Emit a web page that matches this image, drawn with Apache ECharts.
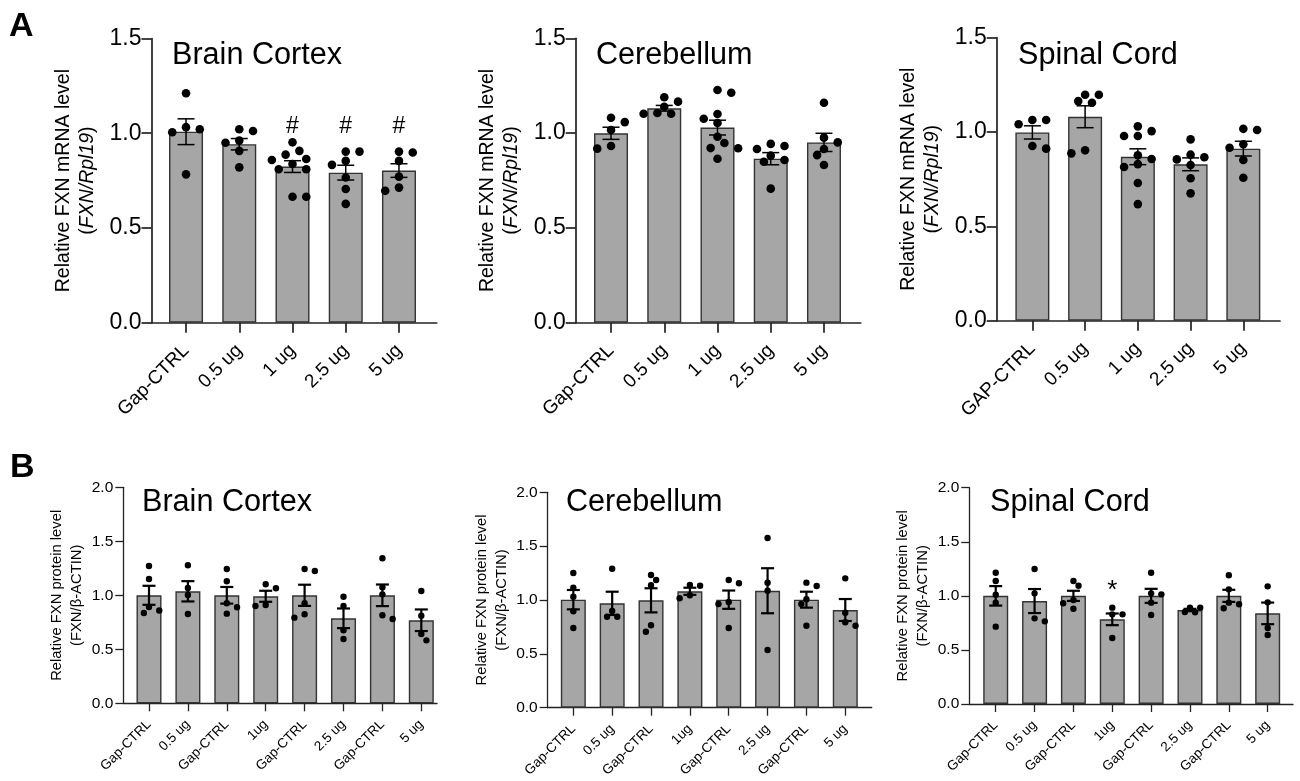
<!DOCTYPE html>
<html>
<head>
<meta charset="utf-8">
<script src="https://cdn.jsdelivr.net/npm/echarts@6/dist/echarts.min.js"></script>
<style>
  html, body { margin: 0; padding: 0; background: #fff; }
  #chart { width: 1300px; height: 781px; }
</style>
</head>
<body>
<div id="chart"></div>
<script>
// ---- Group labels ----
const groupsMrna = ['Gap-CTRL', '0.5 ug', '1 ug', '2.5 ug', '5 ug'];
const groupsMrnaSpinal = ['GAP-CTRL', '0.5 ug', '1 ug', '2.5 ug', '5 ug'];
const groupsProtein = ['Gap-CTRL', '0.5 ug', 'Gap-CTRL', '1ug', 'Gap-CTRL', '2.5 ug', 'Gap-CTRL', '5 ug'];

// ---- Y-axis ranges (ticks every 0.5) ----
const mrnaAxis = { min: 0, max: 1.5, interval: 0.5 };
const proteinAxis = { min: 0, max: 2.0, interval: 0.5 };

// ---- A: FXN mRNA, Brain Cortex ----
const cortexMrnaMean = [1.008, 0.942, 0.824, 0.792, 0.803];
const cortexMrnaSem = [0.068, 0.030, 0.031, 0.039, 0.036];
const cortexMrnaPts = [
  [1.211, 1.032, 1.005, 1.021, 0.783],
  [1.021, 1.012, 0.950, 0.961, 0.907, 0.820],
  [0.952, 0.864, 0.887, 0.907, 0.859, 0.838, 0.810, 0.810, 0.665, 0.665],
  [0.903, 0.903, 0.854, 0.833, 0.766, 0.706, 0.627],
  [0.898, 0.903, 0.854, 0.771, 0.696, 0.713]
];
const cortexMrnaSig = ['', '', '#', '#', '#'];

// ---- A: FXN mRNA, Cerebellum ----
const cerebMrnaMean = [0.999, 1.131, 1.029, 0.865, 0.951];
const cerebMrnaSem = [0.032, 0.015, 0.039, 0.032, 0.048];
const cerebMrnaPts = [
  [1.081, 1.058, 1.016, 0.918, 0.932],
  [1.166, 1.189, 1.139, 1.102, 1.102, 1.106],
  [1.213, 1.227, 1.101, 1.076, 1.053, 0.981, 0.948, 0.920, 0.921, 0.865],
  [0.932, 0.943, 0.916, 0.881, 0.849, 0.858, 0.707],
  [1.160, 0.976, 0.951, 0.916, 0.884, 0.832]
];
const cerebMrnaSig = ['', '', '', '', ''];

// ---- A: FXN mRNA, Spinal Cord ----
const spinalMrnaMean = [0.998, 1.081, 0.869, 0.829, 0.912];
const spinalMrnaSem = [0.035, 0.058, 0.042, 0.034, 0.039];
const spinalMrnaPts = [
  [1.064, 1.041, 1.064, 0.912, 0.926],
  [1.164, 1.198, 1.155, 1.198, 0.887, 0.903],
  [1.030, 0.979, 0.979, 1.005, 0.877, 0.857, 0.830, 0.815, 0.730, 0.618],
  [0.961, 0.855, 0.866, 0.880, 0.825, 0.755, 0.675],
  [1.011, 1.017, 0.917, 0.935, 0.852, 0.758]
];
const spinalMrnaSig = ['', '', '', '', ''];

// ---- B: FXN protein, Brain Cortex ----
const cortexProtMean = [1.000, 1.037, 1.000, 0.991, 1.000, 0.787, 1.000, 0.769];
const cortexProtSem = [0.088, 0.094, 0.077, 0.051, 0.098, 0.091, 0.100, 0.100];
const cortexProtPts = [
  [1.271, 1.151, 0.836, 0.892, 0.859],
  [1.278, 1.068, 1.003, 0.827],
  [1.244, 1.130, 0.926, 0.889, 0.830],
  [1.065, 1.102, 0.901, 0.910],
  [1.244, 1.225, 0.926, 0.793, 0.824],
  [0.987, 0.901, 0.676, 0.595],
  [1.343, 1.074, 1.009, 0.781, 0.815],
  [1.040, 0.811, 0.642, 0.583]
];
const cortexProtSig = ['', '', '', '', '', '', '', ''];

// ---- B: FXN protein, Cerebellum ----
const cerebProtMean = [1.003, 0.969, 0.997, 1.081, 1.003, 1.086, 1.003, 0.907];
const cerebProtSem = [0.090, 0.108, 0.112, 0.033, 0.085, 0.209, 0.074, 0.102];
const cerebProtPts = [
  [1.251, 1.114, 1.031, 0.895, 0.740],
  [1.290, 0.898, 0.845, 0.845],
  [1.232, 1.186, 1.137, 0.765, 0.705],
  [1.133, 1.139, 1.016, 1.044],
  [1.186, 1.155, 0.981, 0.963, 0.740],
  [1.576, 1.161, 1.086, 0.536],
  [1.161, 1.130, 1.007, 0.963, 0.761],
  [1.201, 0.882, 0.761, 0.793]
];
const cerebProtSig = ['', '', '', '', '', '', '', ''];

// ---- B: FXN protein, Spinal Cord ----
const spinalProtMean = [1.000, 0.952, 1.000, 0.783, 1.000, 0.869, 1.000, 0.838];
const spinalProtSem = [0.090, 0.111, 0.047, 0.054, 0.065, 0.011, 0.056, 0.100];
const spinalProtPts = [
  [1.214, 1.137, 1.011, 0.937, 0.715],
  [1.248, 1.023, 0.764, 0.792],
  [1.094, 1.137, 0.962, 0.931, 0.881],
  [0.891, 0.829, 0.829, 0.610],
  [1.214, 1.014, 1.023, 0.937, 0.823],
  [0.851, 0.891, 0.848, 0.891],
  [1.190, 1.060, 0.885, 0.937, 0.922],
  [1.088, 0.940, 0.703, 0.638]
];
const spinalProtSig = ['', '', '', '*', '', '', '', ''];

// ---- Styling ----
const FONT = '"Liberation Sans", Arial, Helvetica, sans-serif';
const AXIS_COLOR = '#222';
const BAR_COLOR = '#a6a6a6';
const BAR_BORDER = '#333';

const STYLE = {
  A: { axis: mrnaAxis, tickFont: 23, yMargin: 10, xFont: 19, nameFont: 19.5, nameLH: 24, nameGap: 52,
       tickLen: 10, axisW: 1.7, barW: 34, dot: 8.6, errW: 1.5, cap: 17, xMargin: 25,
       sigFont: 23, sigLevel: 1.035,
       name: 'Relative FXN mRNA level\n({i|FXN/Rpl19})' },
  B: { axis: proteinAxis, tickFont: 15.5, yMargin: 10, xFont: 13.5, nameFont: 14.8, nameLH: 20, nameGap: 36,
       tickLen: 8, axisW: 1.3, barW: 25, dot: 6.4, errW: 2.2, cap: 13, xMargin: 19,
       sigFont: 26, sigLevel: 1.045,
       name: 'Relative FXN protein level\n(FXN/β-ACTIN)' }
};

// Panel frames: frame = y-axis line .. end of x-axis line, plot = band area of the categories
const panels = [
  { kind: 'A', title: 'Brain Cortex', cats: groupsMrna, mean: cortexMrnaMean, sem: cortexMrnaSem, pts: cortexMrnaPts, sig: cortexMrnaSig,
    frame: [151.5, 436.7], plot: [159.4, 425.6], top: 38.5, bottom: 322.7, titleAt: [172, 40] },
  { kind: 'A', title: 'Cerebellum', cats: groupsMrna, mean: cerebMrnaMean, sem: cerebMrnaSem, pts: cerebMrnaPts, sig: cerebMrnaSig,
    frame: [575.7, 860.7], plot: [584.4, 850.6], top: 38.3, bottom: 322.7, titleAt: [596, 40] },
  { kind: 'A', title: 'Spinal Cord', cats: groupsMrnaSpinal, mean: spinalMrnaMean, sem: spinalMrnaSem, pts: spinalMrnaPts, sig: spinalMrnaSig,
    frame: [996.7, 1280], plot: [1006, 1269.7], top: 37.7, bottom: 320.7, titleAt: [1018, 40] },
  { kind: 'B', title: 'Brain Cortex', cats: groupsProtein, mean: cortexProtMean, sem: cortexProtSem, pts: cortexProtPts, sig: cortexProtSig,
    frame: [123.3, 437], plot: [129.55, 440.75], top: 487.3, bottom: 703.3, titleAt: [142, 487] },
  { kind: 'B', title: 'Cerebellum', cats: groupsProtein, mean: cerebProtMean, sem: cerebProtSem, pts: cerebProtPts, sig: cerebProtSig,
    frame: [547.7, 871.7], plot: [553.9, 864.7], top: 492.3, bottom: 707.7, titleAt: [566, 487] },
  { kind: 'B', title: 'Spinal Cord', cats: groupsProtein, mean: spinalProtMean, sem: spinalProtSem, pts: spinalProtPts, sig: spinalProtSig,
    frame: [969.3, 1293], plot: [976.3, 1287.1], top: 487.7, bottom: 704, titleAt: [990, 487] }
];

// Spread the dots of one group sideways so that they do not overlap (beeswarm)
function swarmOffsets(values, pxPerUnit, d) {
  const order = values.map((v, i) => i).sort((a, b) => values[b] - values[a]);
  const placed = [];
  const dx = new Array(values.length).fill(0);
  const step = d * 0.8;
  const minDist = d * 1.02;
  order.forEach(idx => {
    const y = values[idx] * pxPerUnit;
    const free = x => placed.every(p => Math.hypot(p.x - x, p.y - y) >= minDist);
    for (let k = 0; k < 40; k++) {
      let cands;
      if (k === 0) cands = [0];
      else {
        const bal = placed.reduce((s, p) => s + Math.sign(p.x), 0);
        cands = bal > 0 ? [-k * step, k * step] : [k * step, -k * step];
      }
      const hit = cands.find(free);
      if (hit !== undefined) { placed.push({ x: hit, y }); dx[idx] = hit; break; }
    }
  });
  return dx;
}

const grid = [], xAxis = [], yAxis = [], series = [], titles = [];

panels.forEach(p => {
  const s = STYLE[p.kind];
  const h = p.bottom - p.top;
  const axisLineStyle = { color: AXIS_COLOR, width: s.axisW };

  // frame grid: carries the visible axis lines, y ticks and y labels
  const gf = grid.length;
  grid.push({ left: p.frame[0], top: p.top, width: p.frame[1] - p.frame[0], height: h });
  xAxis.push({
    type: 'value', gridIndex: gf, min: 0, max: 1,
    axisLine: { show: true, onZero: false, lineStyle: axisLineStyle },
    axisTick: { show: false }, axisLabel: { show: false }, splitLine: { show: false }
  });
  yAxis.push({
    type: 'value', gridIndex: gf, min: s.axis.min, max: s.axis.max, interval: s.axis.interval,
    axisLine: { show: true, lineStyle: axisLineStyle },
    axisTick: { show: true, length: s.tickLen, lineStyle: axisLineStyle },
    axisLabel: { fontSize: s.tickFont, color: '#000', fontFamily: FONT, margin: s.yMargin,
                 formatter: v => v.toFixed(1) },
    splitLine: { show: false },
    name: s.name, nameLocation: 'middle', nameGap: s.nameGap,
    nameTextStyle: {
      fontSize: s.nameFont, color: '#000', fontFamily: FONT, lineHeight: s.nameLH, align: 'center',
      rich: { i: { fontSize: s.nameFont, fontStyle: 'italic', color: '#000', fontFamily: FONT, lineHeight: s.nameLH } }
    }
  });

  // plot grid: categories, bars, error bars and dots
  const gp = grid.length;
  grid.push({ left: p.plot[0], top: p.top, width: p.plot[1] - p.plot[0], height: h });
  const xi = xAxis.length;
  xAxis.push({
    type: 'category', gridIndex: gp, data: p.cats,
    axisLine: { show: false },
    axisTick: { show: true, alignWithLabel: true, length: s.tickLen, lineStyle: axisLineStyle },
    axisLabel: { rotate: 45, interval: 0, margin: s.xMargin, fontSize: s.xFont, color: '#000', fontFamily: FONT },
    splitLine: { show: false }
  });
  const yi = yAxis.length;
  yAxis.push({ type: 'value', gridIndex: gp, min: s.axis.min, max: s.axis.max, interval: s.axis.interval, show: false });

  series.push({
    type: 'bar', xAxisIndex: xi, yAxisIndex: yi, data: p.mean, barWidth: s.barW,
    itemStyle: { color: BAR_COLOR, borderColor: BAR_BORDER, borderWidth: 1.4 }, z: 2
  });

  // mean ± SEM
  series.push({
    type: 'custom', xAxisIndex: xi, yAxisIndex: yi, z: 3,
    data: p.mean.map((m, i) => [i, m, p.sem[i]]),
    encode: { x: 0, y: 1 },
    renderItem: (params, api) => {
      const i = api.value(0), m = api.value(1), e = api.value(2);
      const t = api.coord([i, m + e]), b = api.coord([i, m - e]);
      const hw = s.cap / 2;
      const st = { stroke: '#000', lineWidth: s.errW };
      return { type: 'group', children: [
        { type: 'line', shape: { x1: t[0], y1: t[1], x2: b[0], y2: b[1] }, style: st },
        { type: 'line', shape: { x1: t[0] - hw, y1: t[1], x2: t[0] + hw, y2: t[1] }, style: st },
        { type: 'line', shape: { x1: b[0] - hw, y1: b[1], x2: b[0] + hw, y2: b[1] }, style: st }
      ] };
    }
  });

  // individual animals
  const pxPerUnit = h / (s.axis.max - s.axis.min);
  const dots = [];
  p.pts.forEach((vals, gi) => {
    const off = swarmOffsets(vals, pxPerUnit, s.dot);
    vals.forEach((v, k) => dots.push([gi, v, off[k]]));
  });
  series.push({
    type: 'custom', xAxisIndex: xi, yAxisIndex: yi, z: 4,
    data: dots, encode: { x: 0, y: 1 },
    renderItem: (params, api) => {
      const c = api.coord([api.value(0), api.value(1)]);
      return { type: 'circle', shape: { cx: c[0] + api.value(2), cy: c[1], r: s.dot / 2 }, style: { fill: '#000' } };
    }
  });

  // significance marks
  const sigIdx = p.sig.map((t, i) => (t ? i : -1)).filter(i => i >= 0);
  if (sigIdx.length) {
    series.push({
      type: 'custom', xAxisIndex: xi, yAxisIndex: yi, z: 5,
      data: sigIdx.map(i => [i, s.sigLevel]), encode: { x: 0, y: 1 },
      renderItem: (params, api) => {
        const c = api.coord([api.value(0), api.value(1)]);
        return { type: 'text', x: c[0], y: c[1],
          style: { text: p.sig[sigIdx[params.dataIndex]], fill: '#000', font: s.sigFont + 'px ' + FONT,
                   align: 'center', verticalAlign: 'middle' } };
      }
    });
  }

  titles.push({ text: p.title, left: p.titleAt[0], top: p.titleAt[1], padding: 0,
    textStyle: { fontSize: 30.6, fontWeight: 'normal', color: '#000', fontFamily: FONT } });
});

titles.push({ text: 'A', left: 9, top: 10, padding: 0, textStyle: { fontSize: 34, fontWeight: 'bold', color: '#000', fontFamily: FONT } });
titles.push({ text: 'B', left: 10, top: 451, padding: 0, textStyle: { fontSize: 34, fontWeight: 'bold', color: '#000', fontFamily: FONT } });

const chart = echarts.init(document.getElementById('chart'), null, { renderer: 'canvas' });
chart.setOption({
  backgroundColor: '#fff',
  animation: false,
  title: titles,
  grid, xAxis, yAxis, series
});
</script>
</body>
</html>
